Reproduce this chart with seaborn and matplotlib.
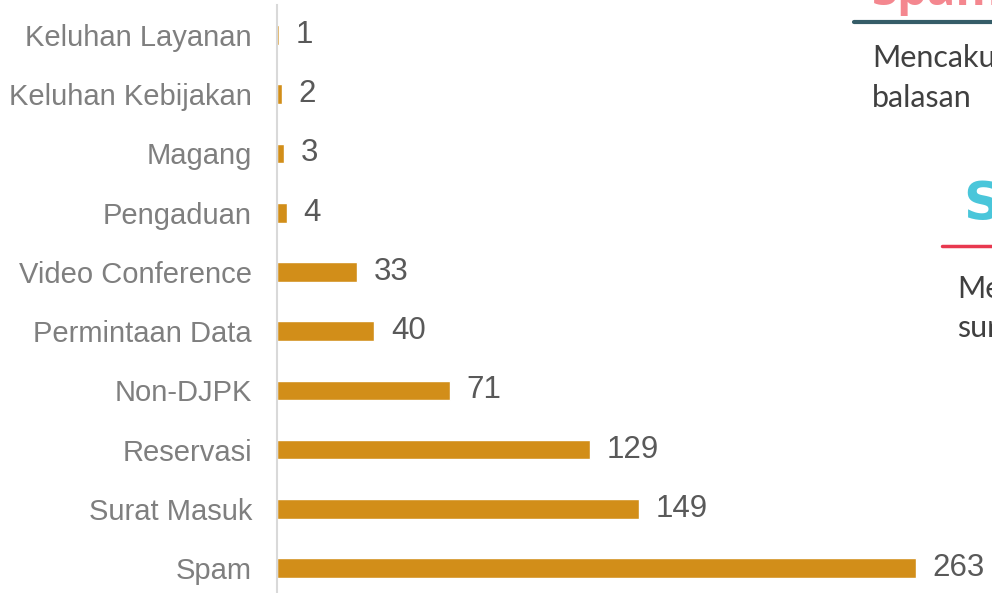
import matplotlib
matplotlib.use("Agg")
import matplotlib.pyplot as plt
from matplotlib.lines import Line2D
import seaborn as sns
import pandas as pd

categories = ["Keluhan Layanan", "Keluhan Kebijakan", "Magang", "Pengaduan",
              "Video Conference", "Permintaan Data", "Non-DJPK", "Reservasi",
              "Surat Masuk", "Spam"]
values = [1, 2, 3, 4, 33, 40, 71, 129, 149, 263]

df = pd.DataFrame({"kategori": categories, "jumlah": values})

sns.set_theme(style="white")
plt.rcParams["font.family"] = ["Liberation Sans", "DejaVu Sans"]

W, H = 992, 593
fig = plt.figure(figsize=(W / 100, H / 100), dpi=100)
ax_left = 277 / W
ax = fig.add_axes([ax_left, 0, 1 - ax_left, 588 / H])

sns.barplot(data=df, x="jumlah", y="kategori", order=categories,
            color="#D28E19", saturation=1, width=0.33, ax=ax)

px_per_unit = (917 - 278) / 263
ax.set_xlim(0, (W - 277) / px_per_unit)
ax.set_ylim(9.42, -0.507)

for i, v in enumerate(values):
    ax.annotate(str(v), xy=(v, i), xytext=(12, 0), textcoords="offset points",
                ha="left", va="center", fontsize=22.5, color="#595959")

ax.set_xlabel("")
ax.set_ylabel("")
ax.set_xticks([])
ax.tick_params(axis="y", length=0, pad=18, labelsize=21, labelcolor="#7f7f7f")
for s in ["top", "right", "bottom"]:
    ax.spines[s].set_visible(False)
ax.spines["left"].set_color("#d9d9d9")
ax.spines["left"].set_linewidth(1.5)

def fx(px):
    return px / W

def fy(py):
    return 1 - py / H

# Overlay slide elements (partially cropped)
fig.text(fx(872), fy(5), "Spam", fontsize=34, fontweight="bold", color="#F4878F",
         family=["Open Sans", "DejaVu Sans"], ha="left", va="baseline")
fig.add_artist(Line2D([fx(854), fx(1000)], [fy(22), fy(22)], color="#355D68",
                      linewidth=3, transform=fig.transFigure))
fig.text(fx(872), fy(67), "Mencakup", fontsize=22, color="#404040",
         family=["Lato", "DejaVu Sans"], ha="left", va="baseline")
fig.text(fx(872), fy(107), "balasan", fontsize=22, color="#404040",
         family=["Lato", "DejaVu Sans"], ha="left", va="baseline")

fig.text(fx(963), fy(220), "S", fontsize=38, fontweight="bold", color="#4AC6DA",
         family=["Liberation Sans Narrow", "DejaVu Sans"], ha="left", va="baseline")
fig.add_artist(Line2D([fx(942), fx(1000)], [fy(246), fy(246)], color="#E8384F",
                      linewidth=2.5, transform=fig.transFigure))
fig.text(fx(957), fy(298), "Mengenai", fontsize=22, color="#404040",
         family=["Lato", "DejaVu Sans"], ha="left", va="baseline")
fig.text(fx(957), fy(337), "surat", fontsize=22, color="#404040",
         family=["Lato", "DejaVu Sans"], ha="left", va="baseline")

fig.savefig("out.png", dpi=100)
